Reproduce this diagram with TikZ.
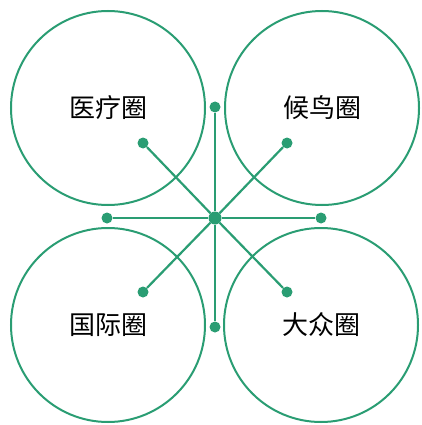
\documentclass[tikz,border=0pt]{standalone}
\usepackage{fontspec}
\newfontfamily\cjk{Noto Sans CJK SC}
\usepackage{tikz}
\definecolor{ringgreen}{RGB}{42,157,115}
\tikzset{
    ring/.style={circle,draw=ringgreen,line width=2pt,minimum size=194pt,inner sep=0pt,font=\cjk\fontsize{26}{26}\selectfont},
    dot/.style={circle,fill=ringgreen,minimum size=11pt,inner sep=0pt},
    hub/.style={circle,fill=ringgreen,minimum size=13pt,inner sep=0pt},
    edge/.style={draw=ringgreen,line width=2.2pt}
}
\begin{document}
\begin{tikzpicture} [x=1pt,y=-1pt]
\useasboundingbox (0,0) rectangle (421,425);
\node[ring] (1) at (108,108) {医疗圈};
\node[ring] (2) at (322,108) {候鸟圈};
\node[ring] (3) at (108,325) {国际圈};
\node[ring] (4) at (321,325) {大众圈};

\node[hub] (o) at (215,218) {};
\node[dot] (u) at (215,107) {};
\node[dot] (d) at (215,327) {};
\node[dot] (l) at (107,218) {};
\node[dot] (r) at (321,218) {};
\node[dot] (ul) at (143,143) {};
\node[dot] (ur) at (287,143) {};
\node[dot] (dl) at (143,292) {};
\node[dot] (dr) at (287,292) {};

\draw[edge] (o) -- (u);
\draw[edge] (o) -- (d);
\draw[edge] (o) -- (l);
\draw[edge] (o) -- (r);
\draw[edge] (o) -- (ul);
\draw[edge] (o) -- (ur);
\draw[edge] (o) -- (dl);
\draw[edge] (o) -- (dr);

\end{tikzpicture}
\end{document}
